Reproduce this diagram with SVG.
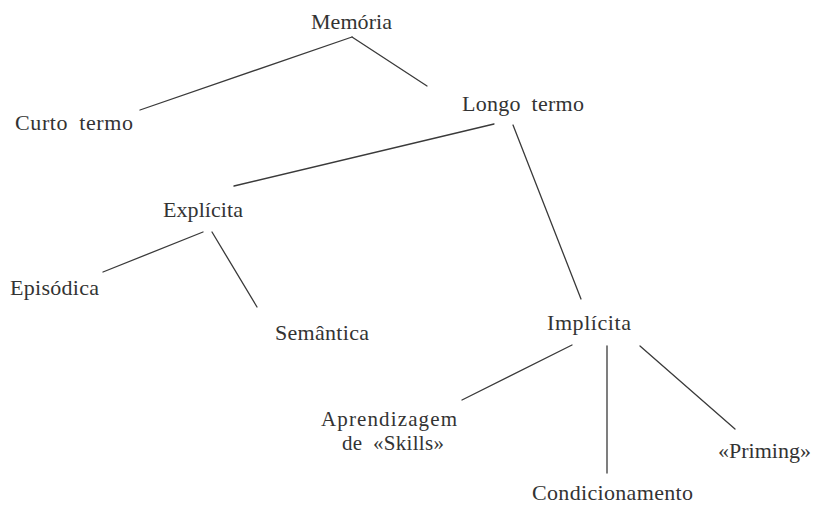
<svg xmlns="http://www.w3.org/2000/svg" width="816" height="507" viewBox="0 0 816 507">
<style>
  text { font-family: "Liberation Serif", "Times New Roman", serif; font-size: 22px; fill: #333333; word-spacing: 5px; }
  .small { font-size: 21px; }
  .edge { stroke: #3a3a3a; stroke-width: 1.3; fill: none; stroke-linecap: round; }
</style>
<rect width="816" height="507" fill="#ffffff"/>
<g id="connectors">
  <line class="edge" x1="352" y1="37" x2="140" y2="110"/>
  <line class="edge" x1="352" y1="37" x2="427" y2="86"/>
  <line class="edge" x1="494" y1="124" x2="234" y2="186"/>
  <line class="edge" x1="513" y1="125" x2="581" y2="299"/>
  <line class="edge" x1="203" y1="232" x2="103" y2="272"/>
  <line class="edge" x1="212" y1="232" x2="257" y2="307"/>
  <line class="edge" x1="572" y1="345" x2="462" y2="400"/>
  <line class="edge" x1="607" y1="346" x2="607" y2="473"/>
  <line class="edge" x1="640" y1="346" x2="735" y2="429"/>
</g>
<g id="memoria"><text x="311" y="29" textLength="81">Memória</text></g>
<g id="curto"><text x="15" y="130" textLength="118">Curto termo</text></g>
<g id="longo"><text x="462" y="111" textLength="122">Longo termo</text></g>
<g id="explicita"><text x="163" y="217" textLength="80">Explícita</text></g>
<g id="episodica"><text x="10" y="295" textLength="89">Episódica</text></g>
<g id="semantica"><text x="275" y="340" textLength="94">Semântica</text></g>
<g id="implicita"><text x="547" y="330" textLength="84">Implícita</text></g>
<g id="aprendizagem">
  <text class="small" x="321" y="426" textLength="136">Aprendizagem</text>
  <text class="small" x="342" y="450" textLength="102">de «Skills»</text>
</g>
<g id="condicionamento"><text x="532" y="500" textLength="161">Condicionamento</text></g>
<g id="priming"><text x="718" y="458" textLength="93">«Priming»</text></g>
</svg>
